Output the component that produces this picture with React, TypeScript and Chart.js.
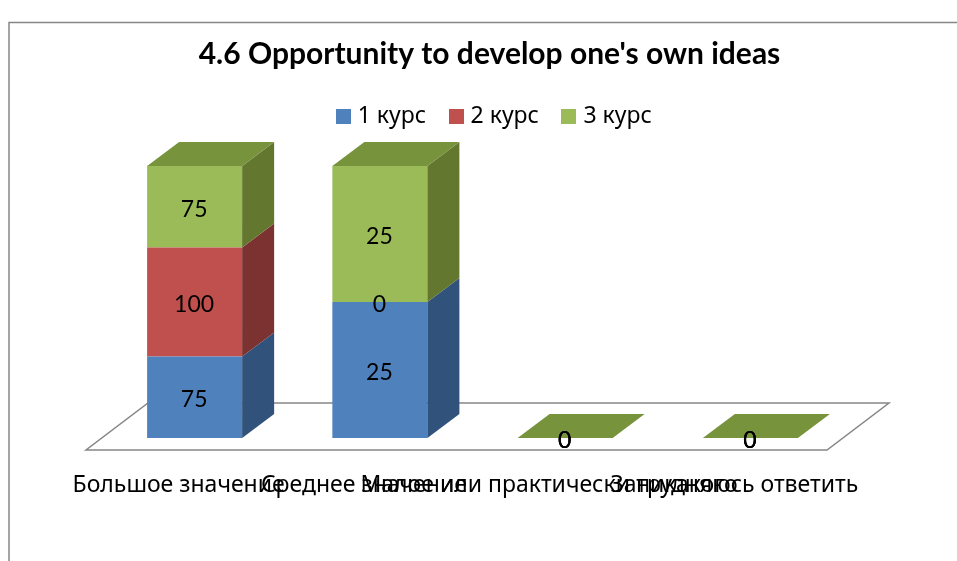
import React, { useEffect, useRef } from "react";
import { Chart, registerables } from "chart.js";

Chart.register(...registerables);

const categories = [
  "Большое значение",
  "Среднее значение",
  "Малое или практически никакого",
  "Затрудняюсь ответить",
];
const course1 = [75, 25, 0, 0];
const course2 = [100, 0, 0, 0];
const course3 = [75, 25, 0, 0];
const seriesNames = ["1 курс", "2 курс", "3 курс"];
const titleText = "4.6 Opportunity to develop one's own ideas";

const frontColors = ["#4F81BD", "#C0504D", "#9BBB59"];
const sideColors = ["#31527A", "#7C3230", "#64772F"];
const topColor = "#77933C";
const frameColor = "#868686";

const DEPTH_X = 32;
const DEPTH_Y = 24;
const LEGEND_SHIFT = 6.5;

const raw = [course1, course2, course3];
const totals = categories.map((_, i) => raw.reduce((s, r) => s + r[i], 0));
const shares = raw.map((r) => r.map((v, i) => (totals[i] ? (v / totals[i]) * 100 : 0)));

function swatch(color: string) {
  const c = document.createElement("canvas");
  c.width = 15;
  c.height = 15;
  const g = c.getContext("2d")!;
  g.fillStyle = color;
  g.fillRect(0, 0, 15, 15);
  return c;
}

function poly(ctx: CanvasRenderingContext2D, pts: number[][], fill: string) {
  ctx.beginPath();
  pts.forEach((p, i) => (i ? ctx.lineTo(p[0], p[1]) : ctx.moveTo(p[0], p[1])));
  ctx.closePath();
  ctx.fillStyle = fill;
  ctx.fill();
}

const pseudo3d = {
  id: "pseudo3d",
  afterLayout(chart: any) {
    chart.legend.left += LEGEND_SHIFT;
    chart.legend.right += LEGEND_SHIFT;
  },
  beforeDraw(chart: any) {
    const ctx = chart.ctx;
    ctx.save();
    ctx.strokeStyle = frameColor;
    ctx.lineWidth = 1.5;
    ctx.beginPath();
    ctx.moveTo(9, chart.height);
    ctx.lineTo(9, 22.5);
    ctx.lineTo(chart.width, 22.5);
    ctx.stroke();
    ctx.restore();
  },
  beforeDatasetsDraw(chart: any) {
    const ctx = chart.ctx;
    const { x, y } = chart.scales;
    const base = y.getPixelForValue(0);
    ctx.save();
    ctx.strokeStyle = frameColor;
    ctx.lineWidth = 1.5;
    ctx.beginPath();
    ctx.moveTo(x.left - DEPTH_X / 2, base + DEPTH_Y / 2);
    ctx.lineTo(x.right - DEPTH_X / 2, base + DEPTH_Y / 2);
    ctx.lineTo(x.right + 46, base - 35);
    ctx.lineTo(x.left + 46, base - 35);
    ctx.closePath();
    ctx.stroke();
    ctx.restore();
  },
  afterDatasetsDraw(chart: any) {
    const ctx = chart.ctx;
    ctx.save();
    raw.forEach((_, d) => {
      chart.getDatasetMeta(d).data.forEach((bar: any) => {
        const r = bar.x + bar.width / 2;
        const l = bar.x - bar.width / 2;
        poly(
          ctx,
          [
            [r, bar.base],
            [r + DEPTH_X, bar.base - DEPTH_Y],
            [r + DEPTH_X, bar.y - DEPTH_Y],
            [r, bar.y],
          ],
          sideColors[d]
        );
        if (d === raw.length - 1) {
          poly(
            ctx,
            [
              [l, bar.y],
              [l + DEPTH_X, bar.y - DEPTH_Y],
              [r + DEPTH_X, bar.y - DEPTH_Y],
              [r, bar.y],
            ],
            topColor
          );
        }
      });
    });
    ctx.fillStyle = "#000";
    ctx.font = "23px Lato, sans-serif";
    ctx.textAlign = "center";
    ctx.textBaseline = "middle";
    raw.forEach((r, d) => {
      chart.getDatasetMeta(d).data.forEach((bar: any, i: number) => {
        ctx.fillText(String(r[i]), bar.x - 0.5, (bar.y + bar.base) / 2 + 2.5);
      });
    });
    ctx.restore();
  },
};

export default function App() {
  const ref = useRef<HTMLCanvasElement>(null);
  useEffect(() => {
    document.body.style.margin = "0";
    const chart = new Chart(ref.current!, {
      type: "bar",
      data: {
        labels: categories,
        datasets: seriesNames.map((name, d) => ({
          label: name,
          data: shares[d],
          backgroundColor: frontColors[d],
          borderWidth: 0,
          categoryPercentage: 0.513,
          barPercentage: 1,
        })),
      },
      plugins: [pseudo3d],
      options: {
        responsive: false,
        animation: false,
        layout: { padding: { left: 22, right: 0, top: 0, bottom: 0 } },
        plugins: {
          tooltip: { enabled: false },
          title: {
            display: true,
            text: titleText,
            color: "#000",
            font: { family: "Lato, sans-serif", size: 30, weight: "bold" },
            padding: { top: 36, bottom: 6 },
          },
          legend: {
            display: true,
            position: "top",
            labels: {
              color: "#000",
              font: { family: "'Noto Sans', sans-serif", size: 23 },
              usePointStyle: true,
              pointStyleWidth: 6,
              boxHeight: 15,
              padding: 27,
              generateLabels: () =>
                seriesNames.map((name, d) => ({
                  text: name,
                  fontColor: "#000",
                  datasetIndex: d,
                  pointStyle: swatch(frontColors[d]),
                })),
            },
          },
        },
        scales: {
          x: {
            stacked: true,
            border: { display: false },
            grid: { display: false, drawTicks: false },
            ticks: {
              autoSkip: false,
              maxRotation: 0,
              minRotation: 0,
              labelOffset: -16,
              padding: 34,
              color: "#000",
              font: { family: "'Noto Sans', sans-serif", size: 23 },
            },
            afterFit: (s: any) => {
              s.height = 123;
              s.paddingLeft = 0;
              s.paddingRight = 0;
            },
          },
          xTop: {
            type: "category",
            position: "top",
            border: { display: false },
            grid: { display: false, drawTicks: false },
            ticks: { display: false },
            afterFit: (s: any) => {
              s.height = 28;
              s.paddingLeft = 0;
              s.paddingRight = 0;
            },
          },
          y: {
            stacked: true,
            min: 0,
            max: 100,
            border: { display: false },
            grid: { display: false, drawTicks: false },
            ticks: { display: false },
            afterFit: (s: any) => {
              s.width = 80;
              s.paddingTop = 0;
              s.paddingBottom = 0;
            },
          },
          yRight: {
            position: "right",
            min: 0,
            max: 100,
            border: { display: false },
            grid: { display: false, drawTicks: false },
            ticks: { display: false },
            afterFit: (s: any) => {
              s.width = 114;
              s.paddingTop = 0;
              s.paddingBottom = 0;
            },
          },
        },
      },
    } as any);
    return () => chart.destroy();
  }, []);
  return <canvas ref={ref} width={957} height={561} style={{ display: "block" }} />;
}
